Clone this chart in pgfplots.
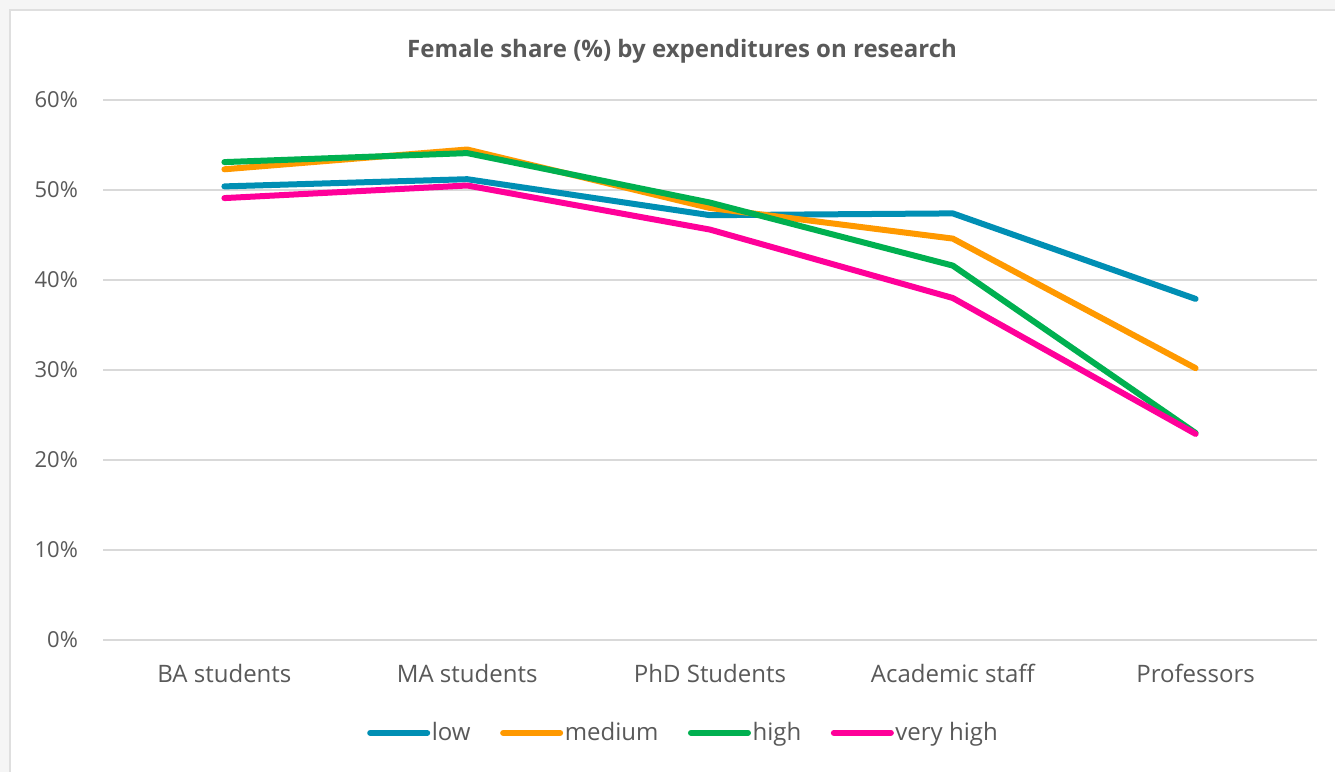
\documentclass[border=0pt]{standalone}
\usepackage{fontspec}
\setmainfont{Open Sans}
\usepackage{pgfplots}
\pgfplotsset{compat=1.18}

\definecolor{clow}{RGB}{0,143,180}
\definecolor{cmed}{RGB}{255,153,0}
\definecolor{chigh}{RGB}{0,176,80}
\definecolor{cvhigh}{RGB}{255,0,153}
\definecolor{txtgray}{RGB}{89,89,89}
\definecolor{gridgray}{RGB}{217,217,217}

\begin{document}
\begin{tikzpicture}
	\fill[gray!8] (0,0) rectangle (667.5pt,386pt);
	\path[use as bounding box] (0,0) rectangle (667.5pt,386pt);
	\filldraw[fill=white, draw=gray!25, line width=0.8pt] (5pt,-3pt) rectangle (672pt,381pt);
	
	% title
	\node[text=txtgray, font=\bfseries\fontsize{12}{14}\selectfont] at (341pt,360.5pt)
		{Female share (\%) by expenditures on research};
	
	\begin{axis}[
		at={(51.5pt,66pt)}, anchor=south west,
		scale only axis,
		width=607pt, height=270pt,
		xmin=-0.5, xmax=4.5,
		ymin=0, ymax=60,
		xtick={0,1,2,3,4},
		xticklabels={BA students, MA students, PhD Students, Academic staff, Professors},
		ytick={0,10,20,30,40,50,60},
		yticklabel={\pgfmathprintnumber{\tick}\%},
		axis line style={draw=none},
		major tick length=0pt,
		ymajorgrids,
		grid style={gridgray, line width=1pt},
		/pgf/number format/assume math mode=true,
		tick label style={text=txtgray, font=\fontsize{11}{13}\selectfont},
		x tick label style={anchor=center, yshift=-16.5pt, font=\fontsize{12}{14}\selectfont},
		y tick label style={anchor=east, xshift=-9pt},
		legend columns=4,
		legend style={draw=none, fill=none, at={(0.478,-0.172)}, anchor=center,
			font=\fontsize{12}{14}\selectfont, text=txtgray,
			nodes={inner sep=0.8pt},
			/tikz/every even column/.append style={column sep=14pt}},
		legend image code/.code={\draw[#1, line cap=round] (0pt,0pt) -- (28.5pt,0pt);},
		every axis plot/.append style={line width=3pt, line join=round, line cap=round},
		]
		
		\addplot[clow] coordinates {(0,50.4)(1,51.2)(2,47.2)(3,47.4)(4,37.9)};
		\addlegendentry{low}
		
		\addplot[cmed] coordinates {(0,52.3)(1,54.5)(2,48.0)(3,44.6)(4,30.2)};
		\addlegendentry{medium}
		
		\addplot[chigh] coordinates {(0,53.1)(1,54.1)(2,48.6)(3,41.6)(4,23.0)};
		\addlegendentry{high}
		
		\addplot[cvhigh] coordinates {(0,49.1)(1,50.5)(2,45.6)(3,38.0)(4,22.9)};
		\addlegendentry{very high}
	\end{axis}
\end{tikzpicture}
\end{document}
